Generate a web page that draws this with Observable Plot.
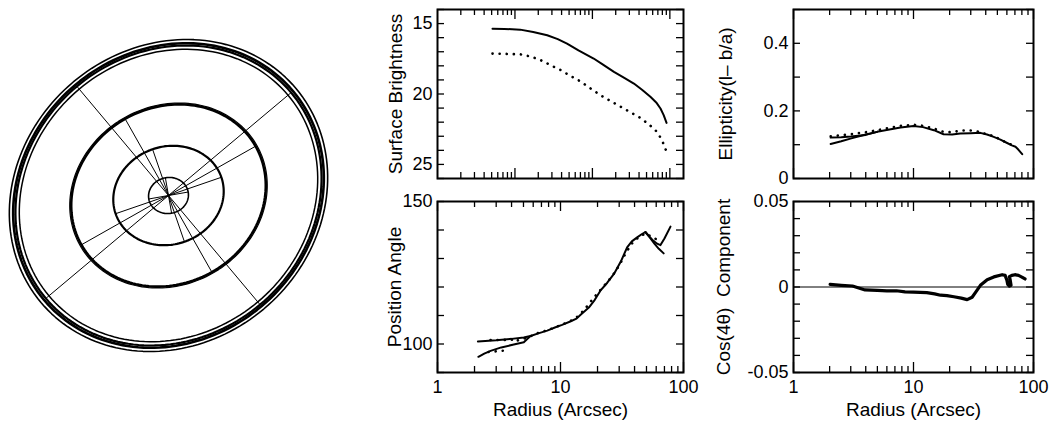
<!DOCTYPE html>
<html><head><meta charset="utf-8">
<script src="https://cdn.jsdelivr.net/npm/d3@7"></script>
<script src="https://cdn.jsdelivr.net/npm/@observablehq/plot@0.6"></script>
<style>
body{margin:0;background:#fff;}
#wrap{position:relative;width:1059px;height:423px;overflow:hidden;background:#fff;}
#wrap > div{position:absolute;}
</style></head><body><div id="wrap">
<div id="img" style="left:0px;top:0px"></div>
<div id="p1" style="left:370px;top:0px"></div>
<div id="p1t" style="left:370px;top:0px"></div>
<div id="p2" style="left:370px;top:185px"></div>
<div id="p3" style="left:700px;top:0px"></div>
<div id="p4" style="left:700px;top:185px"></div>
</div>
<script>
// ---------------- DATA ----------------
// Isophotes of the galaxy image (semi-major axis in image units, ellipticity, position angle in deg)
const isoName = ["r1", "r2", "r3", "r4"];
const isoA = [8.33, 23.3, 41.7, 66.7];
const isoEll = [0.10, 0.125, 0.12, 0.11];
const isoPA = [100, 109, 119.5, 130];

// Surface brightness profile (radius arcsec, mag)
const sbSolidR  = [2.8, 3.5, 4.7, 6.0, 7.8, 9.5, 11.3, 14, 18.6, 22, 27.2, 33, 39.5, 46, 53.8, 60, 65, 69, 72.8];
const sbSolidMu = [15.36, 15.38, 15.43, 15.6, 15.83, 16.1, 16.42, 16.9, 17.48, 17.9, 18.43, 18.85, 19.26, 19.7, 20.2, 20.6, 21.03, 21.5, 22.05];
const sbDotR  = [2.8, 3.5, 4.7, 5.8, 6.9, 8.3, 10, 12, 14.5, 17.5, 21.1, 25.5, 30.7, 37, 44.7, 53, 61.1, 67, 72.8];
const sbDotMu = [17.13, 17.15, 17.18, 17.35, 17.6, 17.95, 18.3, 18.7, 19.1, 19.6, 20.08, 20.5, 20.9, 21.3, 21.7, 22.2, 22.7, 23.3, 24.1];

// Position angle (deg)
const paMainR  = [2.13, 3, 4, 5.03, 5.7, 6.7, 7.8, 9, 10.3, 12, 13.5, 14.5, 17, 19, 21.1, 24, 27.2, 31, 34.8, 38, 42, 46, 49, 53, 58, 63, 69];
const paMainV  = [100.9, 101.3, 101.8, 102.3, 102.8, 103.8, 104.7, 105.8, 106.7, 107.9, 108.9, 110.2, 112.8, 115.5, 118.7, 121.5, 124.6, 129, 133.9, 136, 137.4, 138.6, 139.3, 137.5, 135.2, 133.4, 131.8];
const paLowR   = [2.15, 2.4, 2.7, 3.3, 4.17, 5.03, 5.7];
const paLowV   = [95.5, 96.6, 97.6, 98.8, 99.8, 100.6, 102.8];
const paTailR  = [49, 53, 57, 61, 65, 70, 78.4];
const paTailV  = [139.3, 137.6, 136.2, 135.2, 134.7, 137, 141.2];
const paDotUpR = [2.7, 3.2, 3.8, 4.45];
const paDotUpV = [101.4, 101.4, 101.5, 101.5];
const paDotLoR = [2.6, 3.1, 3.7];
const paDotLoV = [97.2, 97.5, 97.8];
const paDotR = [4.5, 5.5, 6.5, 7.5, 8.5, 10, 12, 14, 16, 18, 20, 23, 26, 30, 34, 38, 42, 46, 50, 55, 60, 65];
const paDotV = [101.3, 102.4, 103.8, 104.6, 105.4, 106.6, 108, 109.8, 112.6, 115.4, 117.8, 120.8, 123.5, 127.5, 132, 135.2, 137, 138.2, 138.8, 137.5, 136.8, 136];

// Ellipticity (1 - b/a)
const ellMainR = [2.04, 2.5, 2.98, 4, 4.98, 6.3, 7.8, 10, 12, 14.8, 17.8, 21, 24.5, 30, 36, 41, 46.6, 53, 60.3, 66, 70.8, 75, 80.5];
const ellMainV = [0.102, 0.11, 0.118, 0.13, 0.138, 0.145, 0.151, 0.155, 0.152, 0.143, 0.131, 0.13, 0.133, 0.134, 0.135, 0.13, 0.123, 0.115, 0.105, 0.098, 0.094, 0.085, 0.072];
const ellUpR = [2.04, 2.5, 3, 4, 4.98];
const ellUpV = [0.121, 0.122, 0.124, 0.129, 0.138];
const ellDotR = [2.04, 2.5, 3, 4, 5, 6.3, 7.8, 10, 12, 14.8, 17.8, 21, 25, 30, 36, 41, 46.6, 53, 60.3, 66];
const ellDotV = [0.125, 0.128, 0.131, 0.137, 0.143, 0.15, 0.156, 0.159, 0.156, 0.148, 0.138, 0.137, 0.142, 0.142, 0.138, 0.13, 0.126, 0.115, 0.105, 0.1];

// cos(4 theta) component
const cosR = [2.02, 2.5, 3.1, 3.95, 5, 6, 7.2, 8.5, 10, 12.9, 15, 16.8, 19, 21.7, 25, 28, 30.8, 33, 36.1, 41.1, 46.7, 54.8, 58, 60, 61, 63, 65, 64, 63, 66, 70, 75, 80, 85];
const cosV = [0.0015, 0.001, 0.0006, -0.0017, -0.002, -0.0023, -0.0022, -0.0029, -0.003, -0.0033, -0.004, -0.0048, -0.005, -0.0057, -0.0065, -0.0074, -0.006, -0.003, 0.001, 0.0043, 0.0059, 0.0072, 0.0068, 0.004, 0.0015, 0.0005, 0.001, 0.004, 0.006, 0.0068, 0.0072, 0.0068, 0.0058, 0.0047];

// Axis ticks and labels
const xMajor = [1, 10, 100];
const xMinor = [2, 3, 4, 5, 6, 7, 8, 9, 20, 30, 40, 50, 60, 70, 80, 90];
const xLabels = [1, 10, 100];
const sbAxisMajor = [10, 100, 1000];
const sbAxisMinor = [2, 3, 4, 5, 6, 7, 8, 9, 20, 30, 40, 50, 60, 70, 80, 90, 200, 300, 400, 500, 600, 700, 800, 900];
const sbYTicks = [14, 15, 16, 17, 18, 19, 20, 21, 22, 23, 24, 25, 26];
const sbYLabels = [15, 20, 25];
const paYTicks = [90, 100, 110, 120, 130, 140, 150];
const paYLabels = [100, 150];
const ellYTicks = [0, 0.1, 0.2, 0.3, 0.4, 0.5];
const ellYLabels = [0, 0.2, 0.4];
const cosYTicks = [-0.05, -0.04, -0.03, -0.02, -0.01, 0, 0.01, 0.02, 0.03, 0.04, 0.05];
const cosYLabels = [-0.05, 0, 0.05];

const titles = {
  sb: "Surface Brightness",
  pa: "Position Angle",
  ell: "Ellipticity(l\u2013 b/a)",
  cos: "Cos(4\u03b8)  Component",
  x: "Radius (Arcsec)"
};

// ---------------- HELPERS ----------------
const FONT = '"Liberation Sans", Arial, Helvetica, sans-serif';
const zip = (xs, ys, k) => xs.map((x, i) => ({x, y: ys[i], k}));
const baseStyle = {background: "transparent", fontFamily: FONT, fontSize: "18px", color: "black", overflow: "visible"};

function tickMarks(fw, fh, minor, major) {
  const sw = 1.3;
  return [
    Plot.tickX(minor, {x: d => d, insetTop: fh - 6, strokeWidth: sw}),
    Plot.tickX(minor, {x: d => d, insetBottom: fh - 6, strokeWidth: sw}),
    Plot.tickX(major, {x: d => d, insetTop: fh - 10, strokeWidth: sw}),
    Plot.tickX(major, {x: d => d, insetBottom: fh - 10, strokeWidth: sw})
  ];
}

const solid = {stroke: "black", strokeWidth: 2, curve: "linear"};
const dotted = {stroke: "black", strokeWidth: 2.6, strokeDasharray: "0.1,7", strokeLinecap: "round", curve: "linear"};

const L = {width: 320, ml: 67, mr: 7};
const R = {width: 359, ml: 93, mr: 26};
const T = {height: 185, mt: 9, mb: 7};
const B = {height: 238, mt: 16, mb: 51};

function makePanel(col, row, cfg) {
  const fw = col.width - col.ml - col.mr;
  const fh = row.height - row.mt - row.mb;
  const marks = [
    ...cfg.marks,
    ...(cfg.noXTicks ? [] : tickMarks(fw, fh, xMinor, xMajor)),
    Plot.tickY(cfg.yTicks, {y: d => d, insetRight: fw - 7, strokeWidth: 1.3}),
    Plot.tickY(cfg.yTicks, {y: d => d, insetLeft: fw - 7, strokeWidth: 1.3}),
    Plot.axisY(cfg.yLabels, {tickSize: 0, tickPadding: 5, tickFormat: d => String(d), fontSize: 18, label: null}),
    Plot.text([cfg.title], {text: d => d, frameAnchor: "left", dx: cfg.titleDx, rotate: -90, fontSize: 19, textAnchor: "middle", lineAnchor: "middle"}),
    Plot.frame({stroke: "black", strokeWidth: 2})
  ];
  if (cfg.xLabels) {
    marks.push(Plot.axisX(xLabels, {tickSize: 0, tickPadding: 8, tickFormat: d => String(d), fontSize: 18, label: null}));
    marks.push(Plot.text([titles.x], {text: d => d, frameAnchor: "bottom", dy: 37, fontSize: 19, textAnchor: "middle", lineAnchor: "middle"}));
  }
  return Plot.plot({
    width: col.width, height: row.height,
    marginLeft: col.ml, marginRight: col.mr, marginTop: row.mt, marginBottom: row.mb,
    x: {type: "log", domain: [1, 100], axis: cfg.xLabels ? undefined : null},
    y: {domain: cfg.yDomain, reverse: !!cfg.reverse, axis: null},
    style: baseStyle,
    marks
  });
}

// ---------------- PANELS ----------------
const p1 = makePanel(L, T, {
  yDomain: [14, 26], reverse: true, yTicks: sbYTicks, yLabels: sbYLabels,
  title: titles.sb, titleDx: -42, noXTicks: true,
  marks: [
    Plot.line(zip(sbSolidR, sbSolidMu), {x: "x", y: "y", ...solid}),
    Plot.line(zip(sbDotR, sbDotMu), {x: "x", y: "y", ...dotted})
  ]
});
document.getElementById("p1").append(p1);

// tick overlay of the surface-brightness panel (its own log axis)
{
  const fw = L.width - L.ml - L.mr, fh = T.height - T.mt - T.mb;
  const ov = Plot.plot({
    width: L.width, height: T.height,
    marginLeft: L.ml, marginRight: L.mr, marginTop: T.mt, marginBottom: T.mb,
    x: {type: "log", domain: [1, 1500], axis: null},
    style: baseStyle,
    marks: tickMarks(fw, fh, sbAxisMinor, sbAxisMajor)
  });
  document.getElementById("p1t").append(ov);
}

const p2 = makePanel(L, B, {
  yDomain: [90, 150], yTicks: paYTicks, yLabels: paYLabels,
  title: titles.pa, titleDx: -43, xLabels: true,
  marks: [
    Plot.line(zip(paDotUpR, paDotUpV, "u").concat(zip(paDotLoR, paDotLoV, "l"), zip(paDotR, paDotV, "m")), {x: "x", y: "y", z: "k", ...dotted}),
    Plot.line(zip(paMainR, paMainV, "m").concat(zip(paLowR, paLowV, "l"), zip(paTailR, paTailV, "t")), {x: "x", y: "y", z: "k", ...solid})
  ]
});
document.getElementById("p2").append(p2);

const p3 = makePanel(R, T, {
  yDomain: [0, 0.5], yTicks: ellYTicks, yLabels: ellYLabels,
  title: titles.ell, titleDx: -68,
  marks: [
    Plot.line(zip(ellDotR, ellDotV), {x: "x", y: "y", ...dotted}),
    Plot.line(zip(ellMainR, ellMainV, "m").concat(zip(ellUpR, ellUpV, "u")), {x: "x", y: "y", z: "k", ...solid})
  ]
});
document.getElementById("p3").append(p3);

const p4 = makePanel(R, B, {
  yDomain: [-0.05, 0.05], yTicks: cosYTicks, yLabels: cosYLabels,
  title: titles.cos, titleDx: -70, xLabels: true,
  marks: [
    Plot.ruleY([0], {stroke: "black", strokeWidth: 1}),
    Plot.line(zip(cosR, cosV), {x: "x", y: "y", stroke: "black", strokeWidth: 3.2, strokeLinejoin: "round"})
  ]
});
document.getElementById("p4").append(p4);

// ---------------- ISOPHOTE IMAGE ----------------
function ellipsePts(a, e, pa, name, scale = 1) {
  const b = a * (1 - e);
  const phi = (pa - 90) * Math.PI / 180;
  const pts = [];
  for (let t = 0; t <= 360; t += 2) {
    const r = t * Math.PI / 180;
    const ex = a * scale * Math.cos(r), ey = b * scale * Math.sin(r);
    pts.push({x: ex * Math.cos(phi) - ey * Math.sin(phi), y: ex * Math.sin(phi) + ey * Math.cos(phi), k: name});
  }
  return pts;
}
const spokes = [];
isoA.forEach((a, i) => {
  const b = a * (1 - isoEll[i]);
  const phi = (isoPA[i] - 90) * Math.PI / 180;
  [[a, 0], [-a, 0], [0, b], [0, -b]].forEach(([ex, ey]) => {
    spokes.push({x1: 0, y1: 0, x2: ex * Math.cos(phi) - ey * Math.sin(phi), y2: ex * Math.sin(phi) + ey * Math.cos(phi)});
  });
});
const widths = [1.6, 2.2, 2.6, 2.2];
const isoMarks = isoA.map((a, i) => Plot.line(ellipsePts(a, isoEll[i], isoPA[i], isoName[i]), {x: "x", y: "y", stroke: "black", strokeWidth: widths[i]}));
// outer contour is a broad, noisy band: extra strands around the fitted ellipse
const outer = isoA.length - 1;
[[0.975, 1.5], [1.015, 2.6], [1.04, 1.6]].forEach(([s, w], j) => {
  isoMarks.push(Plot.line(ellipsePts(isoA[outer], isoEll[outer], isoPA[outer], "o" + j, s), {x: "x", y: "y", stroke: "black", strokeWidth: w}));
});
isoMarks.push(Plot.line(ellipsePts(isoA[2], isoEll[2], isoPA[2], "m2", 1.015), {x: "x", y: "y", stroke: "black", strokeWidth: 1.2}));

const img = Plot.plot({
  width: 340, height: 390, margin: 0,
  x: {domain: [-70, 71.67], axis: null},
  y: {domain: [-81.25, 81.25], axis: null},
  style: baseStyle,
  marks: [
    Plot.link(spokes, {x1: "x1", y1: "y1", x2: "x2", y2: "y2", stroke: "black", strokeWidth: 1}),
    ...isoMarks
  ]
});
document.getElementById("img").append(img);
</script>
</body></html>
